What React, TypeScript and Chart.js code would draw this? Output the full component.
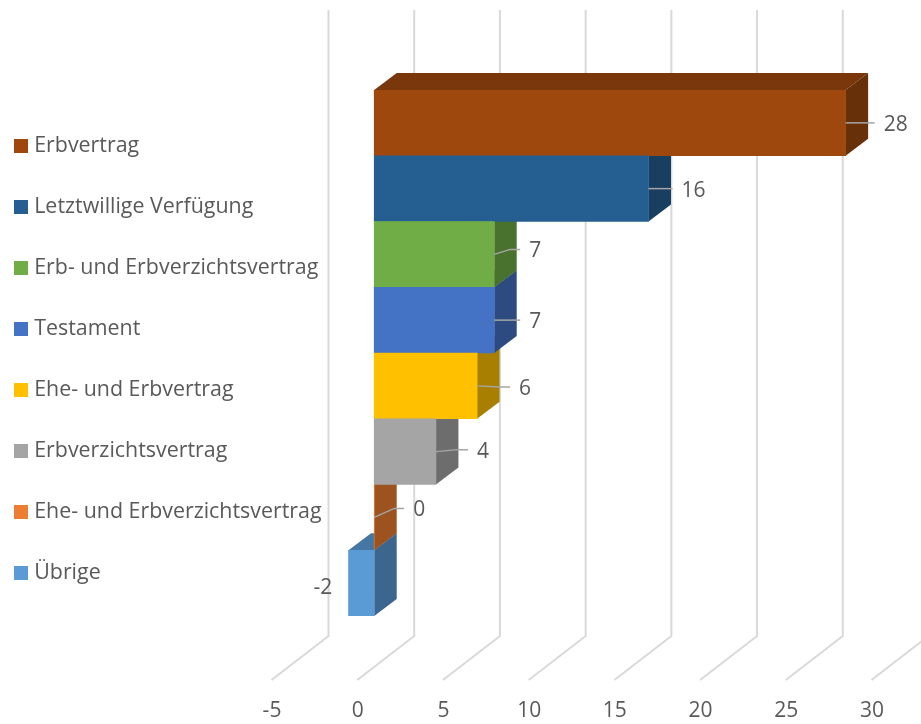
import React, { useEffect, useRef } from "react";
import { Chart, registerables } from "chart.js";

Chart.register(...registerables);

const categories = [
  "Erbvertrag",
  "Letztwillige Verfügung",
  "Erb- und Erbverzichtsvertrag",
  "Testament",
  "Ehe- und Erbvertrag",
  "Erbverzichtsvertrag",
  "Ehe- und Erbverzichtsvertrag",
  "Übrige",
];
const values = [27.5, 16, 7, 7, 6, 3.6, 0, -1.5];
const valueLabels = ["28", "16", "7", "7", "6", "4", "0", "-2"];
const colors = ["#9E480E", "#255E91", "#70AD47", "#4472C4", "#FFC000", "#A5A5A5", "#ED7D31", "#5B9BD5"];

// label offset from the bar tip: [dx to the label start, dy]
const labelOffsets = [[38, 0], [33, 0], [35, -5], [35, 0], [42, 1], [41, -2], [39, -9], [-35, 3]];
const showLeader = [true, true, true, true, true, true, true, false];

const FONT = '"Open Sans"';
const LEGEND_SIZE = 21.4;
const FONT_SIZE = 21;
const TEXT = "#595959";
const GRID = "#D9D9D9";
const DEPTH_X = 22.5;
const DEPTH_Y = -17;
const WALL_DX = 40;
const FLOOR_DX = -17;
const WALL_TOP = 10;
const WALL_BOTTOM = 636;
const FLOOR_Y = 680;
const TICK_Y = 711;
const LABEL_SHIFT_Y = 2;

function shade(hex: string, f: number) {
  const n = parseInt(hex.slice(1), 16);
  const r = Math.round(((n >> 16) & 255) * f);
  const g = Math.round(((n >> 8) & 255) * f);
  const b = Math.round((n & 255) * f);
  return `rgb(${r},${g},${b})`;
}

function swatch(color: string) {
  const c = document.createElement("canvas");
  c.width = 14;
  c.height = 14;
  const g = c.getContext("2d")!;
  g.fillStyle = color;
  g.fillRect(0, 0, 14, 14);
  return c;
}

function poly(ctx: CanvasRenderingContext2D, pts: number[][], fill: string) {
  ctx.fillStyle = fill;
  ctx.beginPath();
  pts.forEach((p, i) => (i ? ctx.lineTo(p[0], p[1]) : ctx.moveTo(p[0], p[1])));
  ctx.closePath();
  ctx.fill();
}

const legendPlugin = {
  id: "legendPlace",
  afterLayout(chart: any) {
    const l = chart.legend;
    if (!l) return;
    const pad = l.options.labels.padding;
    l.left = 17.5 - pad;
    l.right = 340;
    l.top = 135.5 - pad;
    l.bottom = 640;
    l.width = l.right - l.left;
    l.height = l.bottom - l.top;
  },
};

const depthPlugin = {
  id: "depth3d",
  beforeDatasetsDraw(chart: any) {
    const { ctx, scales } = chart;
    const x = scales.x;
    ctx.save();
    ctx.strokeStyle = GRID;
    ctx.lineWidth = 2;
    x.ticks.forEach((t: any) => {
      const px = x.getPixelForValue(t.value);
      ctx.beginPath();
      ctx.moveTo(px + WALL_DX, WALL_TOP);
      ctx.lineTo(px + WALL_DX, WALL_BOTTOM);
      ctx.lineTo(px + FLOOR_DX, FLOOR_Y);
      ctx.stroke();
    });
    const els = chart.getDatasetMeta(0).data;
    for (let i = els.length - 1; i >= 0; i--) {
      const e = els[i];
      const top = e.y - e.height / 2;
      const bot = e.y + e.height / 2;
      const l = Math.min(e.x, e.base);
      const r = Math.max(e.x, e.base);
      poly(ctx, [[l, top], [l + DEPTH_X, top + DEPTH_Y], [r + DEPTH_X, top + DEPTH_Y], [r, top]], shade(colors[i], 0.77));
      poly(ctx, [[r, top], [r + DEPTH_X, top + DEPTH_Y], [r + DEPTH_X, bot + DEPTH_Y], [r, bot]], shade(colors[i], 0.66));
    }
    ctx.restore();
  },
  afterDatasetsDraw(chart: any) {
    const { ctx, scales } = chart;
    const x = scales.x;
    ctx.save();
    ctx.font = `${FONT_SIZE}px ${FONT}`;
    ctx.fillStyle = TEXT;
    ctx.textBaseline = "middle";
    ctx.textAlign = "center";
    x.ticks.forEach((t: any) => {
      ctx.fillText(String(t.value), x.getPixelForValue(t.value) + FLOOR_DX + 0.5, TICK_Y);
    });
    ctx.textAlign = "left";
    const els = chart.getDatasetMeta(0).data;
    els.forEach((e: any, i: number) => {
      const [dx, dy] = labelOffsets[i];
      const lx = e.x + dx;
      const ly = e.y + dy;
      if (showLeader[i]) {
        ctx.strokeStyle = "#A6A6A6";
        ctx.lineWidth = 1.5;
        ctx.beginPath();
        ctx.moveTo(e.x, e.y);
        if (dy !== 0) ctx.lineTo(lx - 19, ly);
        ctx.lineTo(lx - 9, ly);
        ctx.stroke();
      }
      ctx.fillStyle = TEXT;
      ctx.fillText(valueLabels[i], lx, ly + LABEL_SHIFT_Y);
    });
    ctx.restore();
  },
};

export default function App() {
  const ref = useRef<HTMLCanvasElement>(null);
  useEffect(() => {
    const chart = new Chart(ref.current!, {
      type: "bar",
      data: {
        labels: categories,
        datasets: [
          {
            label: "Anzahl",
            data: values,
            backgroundColor: colors,
            borderWidth: 0,
            barPercentage: 1,
            categoryPercentage: 1,
          },
        ],
      },
      options: {
        indexAxis: "y",
        responsive: false,
        animation: false,
        layout: { padding: { left: 0, right: 32.5, top: 90, bottom: 100 } },
        scales: {
          x: {
            type: "linear",
            min: -5,
            max: 30,
            ticks: { stepSize: 5, display: false },
            grid: { display: false },
            border: { display: false },
          },
          y: { display: false, grid: { display: false } },
        },
        plugins: {
          tooltip: { enabled: false },
          legend: {
            display: true,
            position: "left",
            align: "start",
            maxWidth: 288.5,
            labels: {
              usePointStyle: true,
              pointStyleWidth: 6,
              padding: 39.5,
              color: TEXT,
              font: { family: FONT, size: LEGEND_SIZE },
              generateLabels: () =>
                categories.map((c, i) => ({
                  text: c,
                  fontColor: TEXT,
                  fillStyle: colors[i],
                  strokeStyle: colors[i],
                  lineWidth: 0,
                  pointStyle: swatch(colors[i]),
                  hidden: false,
                  datasetIndex: 0,
                  index: i,
                })),
            },
          },
        },
      },
      plugins: [legendPlugin, depthPlugin],
    } as any);
    return () => chart.destroy();
  }, []);
  return (
    <div style={{ position: "absolute", left: 0, top: 0, width: 921, height: 724, background: "#fff" }}>
      <canvas ref={ref} width={921} height={724} style={{ display: "block" }} />
    </div>
  );
}
